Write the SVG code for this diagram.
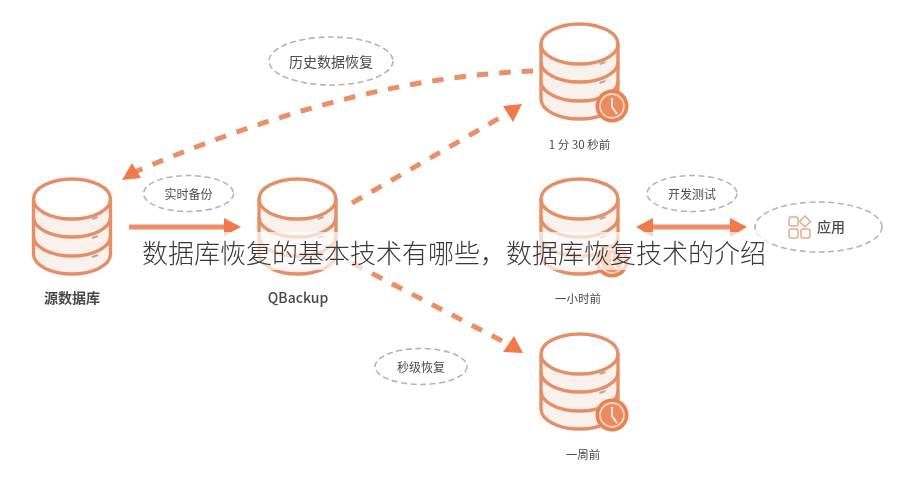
<svg xmlns="http://www.w3.org/2000/svg" xmlns:xlink="http://www.w3.org/1999/xlink" width="905" height="490" viewBox="0 0 905 490">
<style>
.cjk{font-family:"Noto Sans CJK SC","Liberation Sans",sans-serif;text-anchor:middle;dominant-baseline:central}
.bub{fill:#fff;stroke:#bdb3ab;stroke-width:1.6;stroke-dasharray:6 3.5}
.lab{fill:#4d4d4d;font-size:12px}
.cap{fill:#4a4a4a;font-size:11.5px}
.dash{fill:none;stroke:#ea8f66;stroke-width:5;stroke-dasharray:11.5 11}
.solid{fill:none;stroke:#ee8d68;stroke-width:4.8}
.head{fill:#f07a4a}
.dbo{fill:none;stroke:#e58f68;stroke-width:3.4}
.ic{fill:none;stroke:#e3ab90;stroke-width:1.5}
</style>
<defs>
<filter id="soft" x="-2%" y="-2%" width="104%" height="104%"><feGaussianBlur stdDeviation="0.6"/></filter>
<g id="db">
<path d="M-38.500,21V76A38.500,20 0 0 0 38.500,76V21Z" fill="#faf0ec"/>
<ellipse cx="0" cy="21" rx="38.500" ry="20" fill="#fff"/>
<path class="dbo" d="M-38.500,21V76A38.500,20 0 0 0 38.500,76V21"/>
<ellipse class="dbo" cx="0" cy="21" rx="38.500" ry="20"/>
<path class="dbo" d="M-38.500,39A38.500,20 0 0 0 38.500,39M-38.500,58A38.500,20 0 0 0 38.500,58" stroke-width="2.600"/>
<path d="M20,41l6,-2M20,60l6,-2M20,79l6,-2" stroke="#b9a79e" stroke-width="2" fill="none"/>
</g>
<g id="clock">
<circle r="16.500" fill="#ec8051"/>
<circle r="12" fill="#ee8a5f" stroke="#fbd9c5" stroke-width="1.800"/>
<path d="M0,-8V1L5,8" fill="none" stroke="#fff3ea" stroke-width="1.800"/>
</g>
</defs>
<rect width="905" height="490" fill="#fff"/>
<g filter="url(#soft)">
<g id="connectors">
<path class="solid" d="M129,227H226"/>
<polygon class="head" points="241,227 224,218 224,236"/>
<path class="dash" d="M533,71C420,75 290,105 135,172"/>
<polygon class="head" points="122,180 132,163 141,178"/>
<path class="dash" d="M352,203L510,112"/>
<polygon class="head" points="522,104 503,106 513,122"/>
<path class="dash" d="M352,263L508,344"/>
<polygon class="head" points="523,353 503,352 514,336"/>
<path class="solid" d="M650,227H733"/>
<polygon class="head" points="636,227 653,218 653,237"/>
<polygon class="head" points="747,227 730,218 730,237"/>
</g>
<g id="n-source"><use xlink:href="#db" x="72" y="178"/><text class="cjk" x="72" y="297" font-size="14" font-weight="700" fill="#4a4a4a">源数据库</text></g>
<g id="n-qbackup"><use xlink:href="#db" x="297.500" y="178"/><text class="cjk" x="298" y="297" font-size="14" font-weight="500" fill="#4a4a4a">QBackup</text></g>
<g id="n-1m30s"><use xlink:href="#db" x="579.500" y="23"/><use xlink:href="#clock" x="612" y="106"/><text class="cjk cap" x="579.500" y="144">1 分 30 秒前</text></g>
<g id="n-1h"><use xlink:href="#db" x="579.500" y="178"/><use xlink:href="#clock" x="612" y="261"/><text class="cjk cap" x="578" y="298">一小时前</text></g>
<g id="n-1w"><use xlink:href="#db" x="579.500" y="333"/><use xlink:href="#clock" x="612" y="415"/><text class="cjk cap" x="583" y="454">一周前</text></g>
<g id="n-history"><ellipse class="bub" cx="331" cy="61" rx="62" ry="24"/><text class="cjk lab" x="331" y="61" style="font-size:14px">历史数据恢复</text></g>
<g id="n-realtime"><ellipse class="bub" cx="188.500" cy="193.500" rx="45" ry="18"/><text class="cjk lab" x="188.500" y="193.500">实时备份</text></g>
<g id="n-devtest"><ellipse class="bub" cx="692" cy="193.500" rx="45" ry="18"/><text class="cjk lab" x="692" y="193.500">开发测试</text></g>
<g id="n-seconds"><ellipse class="bub" cx="421" cy="366.500" rx="46" ry="18"/><text class="cjk lab" x="421" y="366.500">秒级恢复</text></g>
<g id="n-app"><ellipse class="bub" cx="818.500" cy="227" rx="63.500" ry="25"/>
<rect class="ic" x="789" y="217" width="9" height="9" rx="2"/><path class="ic" d="M805,216l5.500,5.500l-5.500,5.500l-5.500,-5.500Z"/><rect class="ic" x="789" y="229" width="9" height="9" rx="2"/><rect class="ic" x="801" y="229" width="9" height="9" rx="2"/>
<text class="cjk" x="831" y="226" font-size="14" font-weight="500" fill="#4d4d4d">应用</text></g>
</g>
<g id="caption">
<rect x="137" y="232" width="633" height="38" fill="#fff" fill-opacity="0.68"/>
<text x="142" y="263" font-family="'Noto Sans CJK SC',sans-serif" font-size="26" font-weight="300" fill="#3a3a3a">数据库恢复的基本技术有哪些&#xFF0C;数据库恢复技术的介绍</text>
</g>
</svg>
